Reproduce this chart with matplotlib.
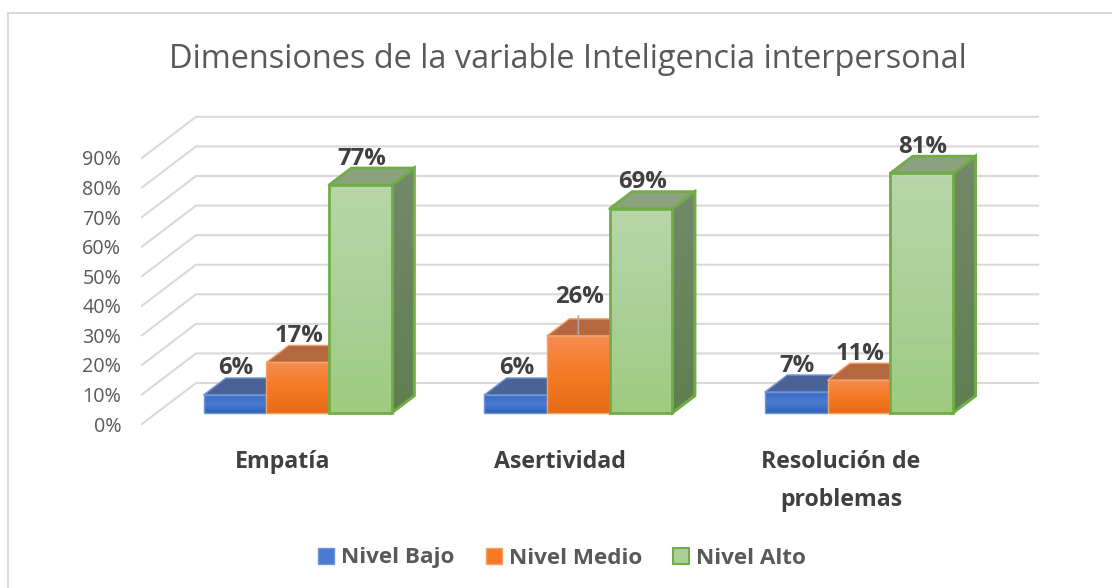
import numpy as np
import matplotlib
matplotlib.use("Agg")
import matplotlib.pyplot as plt
from matplotlib.lines import Line2D
from matplotlib.patches import Polygon, Patch, Rectangle
from matplotlib.colors import LinearSegmentedColormap

categories = ["Empatía", "Asertividad", "Resolución de\nproblemas"]
series_names = ["Nivel Bajo", "Nivel Medio", "Nivel Alto"]
nivel_bajo = [6, 6, 7]
nivel_medio = [17, 26, 11]
nivel_alto = [77, 69, 81]
y_ticks = list(range(0, 100, 10))
title = "Dimensiones de la variable Inteligencia interpersonal"

W, H = 1112, 588
plt.rcParams["font.family"] = ["Open Sans", "DejaVu Sans"]
fig = plt.figure(figsize=(W / 100, H / 100), dpi=100)
fig.patch.set_facecolor("white")

# plot frame in pixels
x0, x1, ybot, ytop = 142, 1038, 424, 117
ax = fig.add_axes([x0 / W, 1 - ybot / H, (x1 - x0) / W, (ybot - ytop) / H])
PX_CAT = 280.67
PX_PCT = 2.957
ax.set_xlim(0, (x1 - x0) / PX_CAT)
ax.set_ylim(0, (ybot - ytop) / PX_PCT)
ax.patch.set_alpha(0)
for s in ax.spines.values():
    s.set_visible(False)

DX, DY = 54 / PX_CAT, 41 / PX_PCT   # full oblique depth of the floor
def proj(x, y, d):
    return x + d * DX, y + d * DY

# gridlines: side wall + back wall
GRID = "#d9d9d9"
for t in y_ticks:
    a = proj(0, t, 0); b = proj(0, t, 1); c = proj(3, t, 1)
    ax.plot([a[0], b[0], c[0]], [a[1], b[1], c[1]], color=GRID, lw=1.5, zorder=1,
            solid_joinstyle="miter", clip_on=False)

D0, D1 = 0.275, 0.69
BW, GAP = 0.2235, 0.1665
styles = [
    dict(front=["#3a6cc4", "#4a7bd0", "#2f62b8"], side="#3f5a8e", top="#4a6296", edge="#6f96d8", lw=1.0),
    dict(front=["#f48c4f", "#f67a24", "#e56c17"], side="#b0603a", top="#b5683f", edge="#f4a06a", lw=1.0),
    dict(front=["#b7d6a9", "#aad098", "#9ecb80"], side="#6f8a63", top="#8aa37e", edge="#70ad47", lw=2.0),
]
values = [nivel_bajo, nivel_medio, nivel_alto]
label_lift = {(1, 1): 39}
for s_i, (vals, st) in enumerate(zip(values, styles)):
    cmap = LinearSegmentedColormap.from_list("g", st["front"])
    side_cmap = LinearSegmentedColormap.from_list("s", ["#73896a", "#5f7f50"])
    for c_i, v in enumerate(vals):
        left = c_i + GAP + s_i * BW
        right = left + BW
        z = 3 + s_i
        fl = proj(left, 0, D0); fr = proj(right, 0, D0)
        ftl = proj(left, v, D0); ftr = proj(right, v, D0)
        btl = proj(left, v, D1); btr = proj(right, v, D1); br = proj(right, 0, D1)
        # side
        side = Polygon([fr, br, btr, ftr], closed=True, facecolor=st["side"],
                       edgecolor=st["edge"] if s_i == 2 else st["side"], lw=st["lw"], zorder=z)
        ax.add_patch(side)
        if s_i == 2:
            im = ax.imshow(np.linspace(0, 1, 64)[:, None], cmap=side_cmap, origin="upper",
                           extent=[fr[0], br[0], fr[1], btr[1]], aspect="auto", zorder=z)
            im.set_clip_path(side)
            ax.add_patch(Polygon([fr, br, btr, ftr], closed=True, facecolor="none",
                                 edgecolor=st["edge"], lw=st["lw"], zorder=z))
        # top
        ax.add_patch(Polygon([ftl, ftr, btr, btl], closed=True, facecolor=st["top"],
                             edgecolor=st["edge"], lw=st["lw"], zorder=z, joinstyle="round"))
        # front with vertical gradient
        rect = Rectangle(fl, right - left, v, facecolor="none", edgecolor="none", zorder=z + .1)
        ax.add_patch(rect)
        im = ax.imshow(np.linspace(0, 1, 64)[:, None], cmap=cmap, origin="upper",
                       extent=[fl[0], fr[0], fl[1], ftl[1]], aspect="auto", zorder=z + .1)
        im.set_clip_path(rect)
        ax.add_patch(Rectangle(fl, right - left, v, facecolor="none", edgecolor=st["edge"],
                               lw=st["lw"], zorder=z + .2))
        # data label
        lift = label_lift.get((s_i, c_i), 26.5)
        cx = (fl[0] + fr[0]) / 2
        ax.annotate(f"{v}%", (cx, ftl[1]), xytext=(1.2 * 0.72, lift * 0.72), textcoords="offset points",
                    ha="center", va="center", fontsize=17.2, fontweight="bold", color="#404040",
                    zorder=20, annotation_clip=False)
        if (s_i, c_i) == (1, 1):
            # leader line of the moved label
            ax.annotate("", (cx, ftl[1]), xytext=(0, 20 * 0.72), textcoords="offset points",
                        arrowprops=dict(arrowstyle="-", color="#a6a6a6", lw=1.2, shrinkA=0, shrinkB=0),
                        zorder=21)

ax.set_xticks([0.5, 1.49, 2.49], categories, fontsize=16.7, fontweight="bold", color="#404040",
              linespacing=1.74, va="top")
ax.set_yticks(y_ticks, [f"{t}%" for t in y_ticks], fontsize=14.2, color="#595959")
ax.tick_params(axis="x", length=0, pad=19)
ax.tick_params(axis="y", length=0, pad=15)
ax.set_xlim(0, (x1 - x0) / PX_CAT)
ax.set_ylim(0, (ybot - ytop) / PX_PCT)

fig.text(568 / W, 1 - 60 / H, title, ha="center", va="center", fontsize=23.45, color="#595959")

handles = [Patch(facecolor=st["front"][1], edgecolor=st["edge"], lw=1 if i < 2 else 1.5)
           for i, st in enumerate(styles)]
fig.legend(handles, series_names, loc="center", bbox_to_anchor=(562 / W, 1 - 558 / H), ncol=3,
           frameon=False, prop=dict(size=16.2, weight="bold", family="Open Sans"), labelcolor="#595959",
           handlelength=0.72, handleheight=0.72, handletextpad=0.3, columnspacing=1.38)

# chart frame: only the top and left edges fall inside the picture
fig.add_artist(Line2D([8 / W, 8 / W, 1], [0, 1 - 12.5 / H, 1 - 12.5 / H], transform=fig.transFigure,
                      color="#d9d9d9", lw=1.4, solid_joinstyle="miter"))
fig.savefig("out.png", dpi=100)
